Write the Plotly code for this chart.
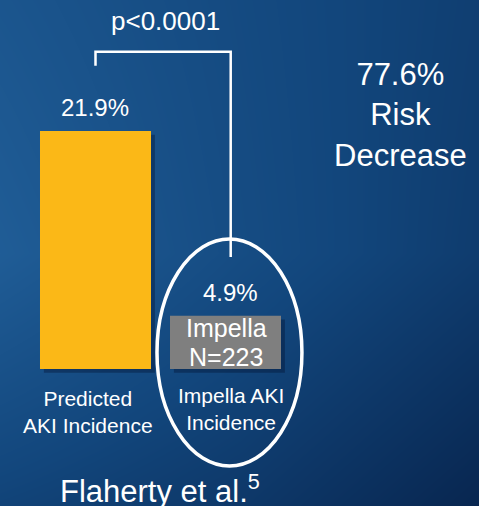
import numpy as np
import plotly.graph_objects as go

# ---- data ----
categories = ["Predicted<br>AKI Incidence", "Impella AKI<br>Incidence"]
values = [21.9, 4.9]
value_labels = ["21.9%", "4.9%"]
bar_colors = ["#FBB817", "#7F7F7F"]
bar_inner_text = ["Impella", "N=223"]
p_text = "p<0.0001"
risk_text = "77.6%<br>Risk<br>Decrease"
source_text = "Flaherty et al.<sup>5</sup>"

W, H = 479, 506
x0, x1 = -0.73462, 2.95
y0, y1 = -12.606, 33.953
xpos = list(range(len(values)))

FONT = "Arial, Liberation Sans, sans-serif"

fig = go.Figure()

# background gradient (decorative)
bg_z = [
    [0.55, 0.72, 1.00],   # bottom
    [0.05, 0.38, 0.66],   # middle
    [0.20, 0.42, 0.62],   # top
]
fig.add_trace(go.Heatmap(
    x=np.linspace(x0, x1, 3), y=np.linspace(y0, y1, 3), z=bg_z,
    zmin=0, zmax=1, zsmooth="best", showscale=False, hoverinfo="skip",
    colorscale=[[0, "rgb(33,95,153)"], [0.5, "rgb(18,70,124)"], [1, "rgb(8,38,80)"]],
))

# soft drop shadow behind bars
fig.add_trace(go.Bar(
    x=[p + 0.03 for p in xpos], y=values, base=-0.35, width=0.854,
    marker=dict(color="rgba(0,12,40,0.35)", line=dict(width=0)), hoverinfo="skip",
))

# bars
fig.add_trace(go.Bar(
    x=xpos, y=values, width=0.854, marker=dict(color=bar_colors, line=dict(width=0)),
    hoverinfo="skip",
))

# significance bracket
top = values[0] + 7.3
fig.add_trace(go.Scatter(
    x=[xpos[0], xpos[0], xpos[1] + 0.04, xpos[1] + 0.04],
    y=[values[0] + 6.0, top, top, values[1] + 5.4],
    mode="lines", line=dict(color="white", width=2.5), hoverinfo="skip",
))

ann = []
label_xshift = [-1, 5]
for i, v in enumerate(values):
    ann.append(dict(x=xpos[i], y=v, text=value_labels[i], showarrow=False,
                    xanchor="center", yanchor="middle", yshift=23, xshift=label_xshift[i],
                    font=dict(size=24, color="white", family=FONT)))
# inner texts in gray bar
ann.append(dict(x=xpos[1], y=0, text=bar_inner_text[0], showarrow=False, xanchor="center",
                yanchor="middle", yshift=41.5, xshift=1, font=dict(size=25, color="white", family=FONT)))
ann.append(dict(x=xpos[1], y=0, text=bar_inner_text[1], showarrow=False, xanchor="center",
                yanchor="middle", yshift=12.5, font=dict(size=25, color="white", family=FONT)))
# category labels
ann.append(dict(x=xpos[0], y=0, text=categories[0], showarrow=False, xanchor="center",
                yanchor="middle", yshift=-43, xshift=-8, font=dict(size=21, color="white", family=FONT)))
ann.append(dict(x=xpos[1], y=0, text=categories[1], showarrow=False, xanchor="center",
                yanchor="middle", yshift=-40, xshift=5.5, font=dict(size=21, color="white", family=FONT)))
# p value
ann.append(dict(x=165 / W, y=(H - 21) / H, xref="paper", yref="paper", text=p_text,
                showarrow=False, xanchor="center", yanchor="middle",
                font=dict(size=26, color="white", family=FONT)))
# risk decrease
ann.append(dict(x=400 / W, y=(H - 115) / H, xref="paper", yref="paper", text=risk_text,
                showarrow=False, xanchor="center", yanchor="middle",
                font=dict(size=31, color="white", family=FONT)))
# source
ann.append(dict(x=160 / W, y=(H - 489) / H, xref="paper", yref="paper", text=source_text,
                showarrow=False, xanchor="center", yanchor="middle",
                font=dict(size=31, color="white", family=FONT)))

fig.update_layout(
    width=W, height=H, autosize=False,
    margin=dict(l=0, r=0, t=0, b=0, pad=0),
    paper_bgcolor="rgb(18,70,124)", plot_bgcolor="rgba(0,0,0,0)",
    showlegend=False, barmode="overlay",
    xaxis=dict(range=[x0, x1], visible=False, fixedrange=True),
    yaxis=dict(range=[y0, y1], visible=False, fixedrange=True),
    annotations=ann,
    shapes=[dict(type="circle", xref="x", yref="y",
                 x0=0.473, x1=1.588, y0=-8.93, y1=11.96,
                 line=dict(color="white", width=3.5), layer="above")],
)

fig.write_html("out.html", config={"displayModeBar": False},
               post_script="document.body.style.margin='0';document.body.style.overflow='hidden';")
